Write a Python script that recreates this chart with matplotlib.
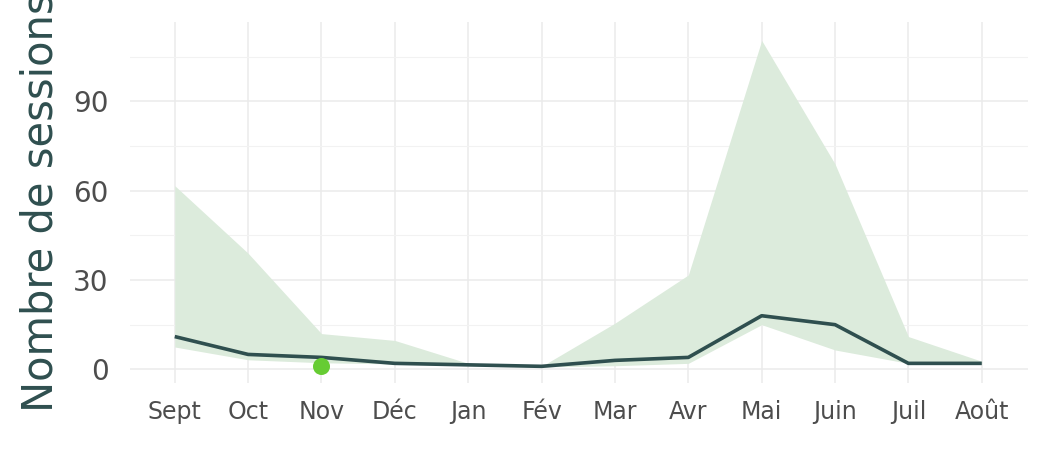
import numpy as np
import matplotlib.pyplot as plt
from matplotlib.ticker import MultipleLocator

mois = ['Sept', 'Oct', 'Nov', 'Déc', 'Jan', 'Fév', 'Mar', 'Avr', 'Mai', 'Juin', 'Juil', 'Août']
sessions = [11, 5, 4, 2, 1.5, 1, 3, 4, 18, 15, 2, 2]
band_min = [7.5, 3.2, 2.2, 1.8, 1.2, 0.8, 1.2, 2, 15, 6.5, 2, 2]
band_max = [61.7, 39, 12, 9.7, 2, 1, 15.5, 31.7, 110.5, 69, 11, 2.7]
point_mois = 'Nov'
point_val = 1

dark = '#2f4f4f'
fill = '#dcebdc'
point_col = '#66cc33'
grid_col = '#ebebeb'

x = np.arange(len(mois))

fig = plt.figure(figsize=(10.5, 4.5), dpi=100)
ax = fig.add_axes([130 / 1050, 67 / 450, 898 / 1050, 361 / 450])

ax.fill_between(x, band_min, band_max, color=fill, linewidth=0, zorder=2)
ax.plot(x, sessions, color=dark, linewidth=2.6, zorder=3, solid_capstyle='butt')
ax.scatter([mois.index(point_mois)], [point_val], s=150, color=point_col, zorder=4, linewidths=0)

ax.set_xlim(-0.61, 11.63)
ax.set_ylim(-4.6, 116.7)
ax.set_xticks(x)
ax.set_xticklabels(mois)
ax.yaxis.set_major_locator(MultipleLocator(30))
ax.yaxis.set_minor_locator(MultipleLocator(15))

ax.grid(which='major', color=grid_col, linewidth=1.1, zorder=0)
ax.grid(which='minor', axis='y', color='#f2f2f2', linewidth=0.8, zorder=0)
ax.set_axisbelow(True)
for s in ax.spines.values():
    s.set_visible(False)

ax.tick_params(axis='both', which='both', length=0)
ax.tick_params(axis='y', labelsize=20, labelcolor='#4d4d4d', pad=15.5)
ax.tick_params(axis='x', labelsize=17, labelcolor='#4d4d4d', pad=12.5)

ax.set_ylabel('Nombre de sessions', fontsize=30, color=dark, labelpad=8)

fig.savefig('out.png', dpi=100)
